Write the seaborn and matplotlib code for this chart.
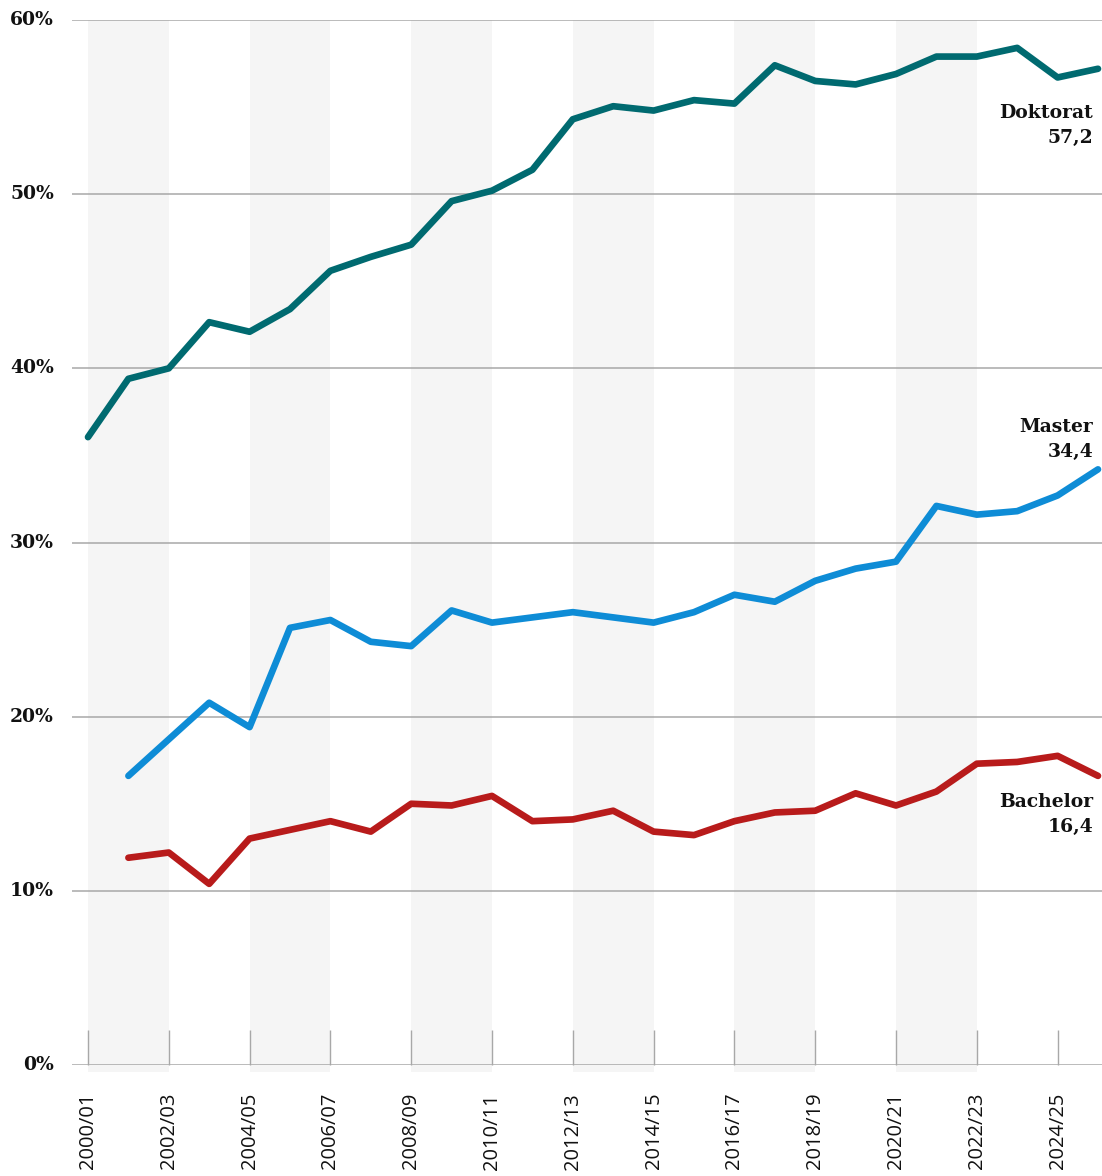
"""Share of women by degree level, 2000/01 to 2025/26."""

import matplotlib
matplotlib.use("Agg")
import matplotlib.pyplot as plt
import numpy as np
import pandas as pd
import seaborn as sns

semesters = [
    "2000/01", "2001/02", "2002/03", "2003/04", "2004/05", "2005/06", "2006/07",
    "2007/08", "2008/09", "2009/10", "2010/11", "2011/12", "2012/13", "2013/14",
    "2014/15", "2015/16", "2016/17", "2017/18", "2018/19", "2019/20", "2020/21",
    "2021/22", "2022/23", "2023/24", "2024/25", "2025/26",
]
doktorat = [36.05, 39.4, 40.0, 42.65, 42.1, 43.4, 45.6, 46.4, 47.1, 49.6, 50.2,
            51.4, 54.3, 55.05, 54.8, 55.4, 55.2, 57.4, 56.5, 56.3, 56.9, 57.9,
            57.9, 58.4, 56.7, 57.2]
master = [np.nan, 16.6, 18.7, 20.8, 19.4, 25.1, 25.55, 24.3, 24.05, 26.1, 25.4,
          25.7, 26.0, 25.7, 25.4, 26.0, 27.0, 26.6, 27.8, 28.5, 28.9, 32.1,
          31.6, 31.8, 32.7, 34.2]
bachelor = [np.nan, 11.9, 12.2, 10.4, 13.0, 13.5, 14.0, 13.4, 15.0, 14.9, 15.45,
            14.0, 14.1, 14.6, 13.4, 13.2, 14.0, 14.5, 14.6, 15.6, 14.9, 15.7,
            17.3, 17.4, 17.75, 16.6]
series_names = ["Doktorat", "Master", "Bachelor"]
end_labels = ["57,2", "34,4", "16,4"]
y_ticks = [0, 10, 20, 30, 40, 50, 60]

colors = {"Doktorat": "#006a70", "Master": "#0e8cd6", "Bachelor": "#b81b1b"}

idx = np.arange(len(semesters))
df = pd.DataFrame({"x": idx, "Doktorat": doktorat, "Master": master, "Bachelor": bachelor})
long_df = df.melt(id_vars="x", var_name="Abschluss", value_name="Anteil").dropna()

sns.set_theme(style="white")
serif = ["DejaVu Serif"]
sans = ["Open Sans", "DejaVu Sans"]

fig = plt.figure(figsize=(11.02, 11.76), dpi=100)
ax = fig.add_axes([72 / 1102, 111 / 1176, 1030 / 1102, 1045 / 1176])

# alternating grey bands, two seasons wide
for start in idx[::4]:
    if start + 2 <= idx[-1]:
        ax.axvspan(start, start + 2, ymin=-0.007, ymax=1.0, color="#f5f5f5",
                   lw=0, zorder=0, clip_on=False)

for yt in y_ticks:
    ax.axhline(yt, color="#a8a8a8", lw=1.1, zorder=1)

sns.lineplot(data=long_df, x="x", y="Anteil", hue="Abschluss", hue_order=series_names,
             palette=colors, lw=4.8, ax=ax, legend=False, zorder=3)

ax.set_xlim(-16 / 40.42, idx[-1] + 4 / 40.42)
ax.set_ylim(0, 60)
sns.despine(ax=ax, left=True, bottom=True, top=True, right=True)

ax.set_xticks(idx[::2])
ax.set_xticklabels(semesters[::2], rotation=90, va="top", ha="center",
                   family=sans, fontsize=14.5, fontweight="medium", color="#111111")
ax.tick_params(axis="x", direction="in", length=25, width=1, color="#a8a8a8",
               pad=20, bottom=True)

ax.set_yticks(y_ticks)
ax.set_yticklabels([f"{v}%" for v in y_ticks], family=serif, fontsize=13.5,
                   fontweight="bold", color="#111111")
ax.tick_params(axis="y", length=0, pad=13)
for lab in ax.get_yticklabels():
    lab.set_va("center")
ax.set_xlabel("")
ax.set_ylabel("")
ax.grid(False)

# end labels
offsets = {"Doktorat": (-5, -35), "Master": (-5, 8), "Bachelor": (-5, -17)}
for name, lab in zip(series_names, end_labels):
    last = df[name].iloc[-1]
    dx, dy = offsets[name]
    ax.annotate(f"{name}\n{lab}", xy=(idx[-1], last), xytext=(dx, dy),
                textcoords="offset pixels", ha="right", va="top" if dy < 0 else "bottom",
                family=serif, fontsize=13.5, fontweight="bold", color="#111111",
                linespacing=1.5, zorder=5)

fig.savefig("out.png", dpi=100)
